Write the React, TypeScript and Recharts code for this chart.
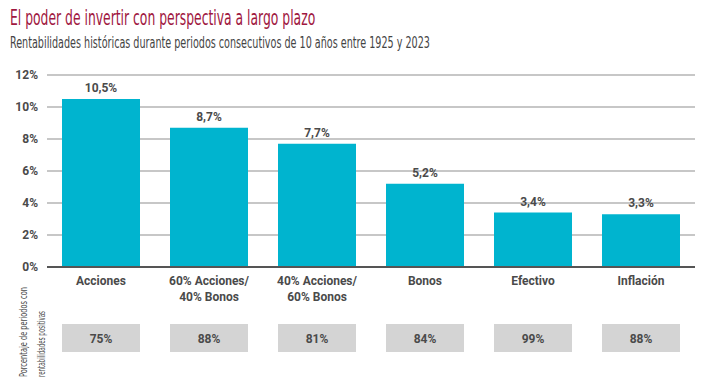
import { BarChart, Bar, XAxis, YAxis, CartesianGrid, LabelList, ReferenceLine } from "recharts";

const categories = ["Acciones", "60% Acciones/\n40% Bonos", "40% Acciones/\n60% Bonos", "Bonos", "Efectivo", "Inflación"];
const annualReturns = [10.5, 8.7, 7.7, 5.2, 3.4, 3.3];
const positiveShare = ["75%", "88%", "81%", "84%", "99%", "88%"];
const yTicks = [0, 2, 4, 6, 8, 10, 12];

const data = categories.map((name, i) => ({ name, value: annualReturns[i], positive: positiveShare[i] }));

const BAR_COLOR = "#00b4cf";
const TEXT = "#4a4a4a";
const FONT = "'DejaVu Sans Condensed', Roboto, sans-serif";
const BOLD_FONT = "Roboto, 'Liberation Sans', sans-serif";

// category label + the gray box with the % of positive periods
function CategoryTick(props: any) {
  const { x, y, payload, index } = props;
  const lines = String(payload.value).split("\n");
  return (
    <g>
      {lines.map((line: string, i: number) => (
        <text key={i} x={x} y={y + 10 + i * 16} textAnchor="middle" fontFamily={BOLD_FONT} fontWeight={700} fontSize={12} fill={TEXT}>
          {line}
        </text>
      ))}
      <rect x={x - 39} y={y + 49} width={78} height={28} fill="#d4d4d4" />
      <text x={x} y={y + 68} textAnchor="middle" fontFamily={BOLD_FONT} fontWeight={700} fontSize={12} fill={TEXT}>
        {positiveShare[index]}
      </text>
    </g>
  );
}

function PctTick(props: any) {
  const { x, y, payload } = props;
  return (
    <text x={x - 1} y={y + 4} textAnchor="end" fontFamily={BOLD_FONT} fontWeight={700} fontSize={12} fill={TEXT}>
      {payload.value}%
    </text>
  );
}

export default function App() {
  return (
    <div style={{ position: "absolute", left: 0, top: 0, width: 720, height: 390, background: "#fff", overflow: "hidden" }}>
      <div style={{ position: "absolute", left: 10, top: 5, fontFamily: FONT, fontSize: 22, color: "#a0173f", whiteSpace: "nowrap", transform: "scaleX(0.625)", transformOrigin: "left" }}>
        El poder de invertir con perspectiva a largo plazo
      </div>
      <div style={{ position: "absolute", left: 10, top: 33, fontFamily: FONT, fontSize: 16, color: "#444", whiteSpace: "nowrap", transform: "scaleX(0.668)", transformOrigin: "left" }}>
        Rentabilidades históricas durante periodos consecutivos de 10 años entre 1925 y 2023
      </div>
      <div style={{ position: "absolute", left: 0, top: 0 }}>
        <BarChart width={720} height={390} data={data} margin={{ top: 75, right: 25, bottom: 0, left: 7 }} barCategoryGap={15}>
          <CartesianGrid vertical={false} stroke="#b5b5b5" strokeWidth={1.5} />
          <XAxis dataKey="name" axisLine={false} tickLine={false} interval={0} tick={<CategoryTick />} height={123} />
          <YAxis domain={[0, 12]} ticks={yTicks} interval={0} axisLine={false} tickLine={false} width={40} tick={<PctTick />} />
          <ReferenceLine y={0} stroke="#555" strokeWidth={2} />
          <Bar dataKey="value" fill={BAR_COLOR} isAnimationActive={false}>
            <LabelList
              dataKey="value"
              position="top"
              offset={7}
              formatter={(v: any) => String(v).replace(".", ",") + "%"}
              style={{ fontFamily: BOLD_FONT, fontWeight: 700, fontSize: 12, fill: TEXT }}
            />
          </Bar>
        </BarChart>
      </div>
      <svg style={{ position: "absolute", left: 0, top: 0 }} width={60} height={390}>
        <g transform="translate(0,332) rotate(-90)">
          <text x={0} y={27} textAnchor="middle" fontFamily={FONT} fontSize={11} fill={TEXT} textLength={90} lengthAdjust="spacingAndGlyphs">
            Porcentaje de periodos con
          </text>
          <text x={-12} y={45} textAnchor="middle" fontFamily={FONT} fontSize={11} fill={TEXT} textLength={66} lengthAdjust="spacingAndGlyphs">
            rentabilidades positivas
          </text>
        </g>
      </svg>
    </div>
  );
}
